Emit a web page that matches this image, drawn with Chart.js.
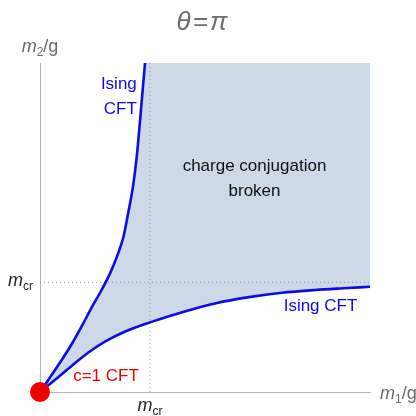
<!DOCTYPE html>
<html>
<head>
<meta charset="utf-8">
<script src="https://cdn.jsdelivr.net/npm/chart.js@4/dist/chart.umd.min.js"></script>
<style>
  html, body { margin: 0; padding: 0; background: #fff; }
  #wrap { width: 416px; height: 416px; }
</style>
</head>
<body>
<div id="wrap"><canvas id="phase"></canvas></div>
<script>
// everything in units of m_cr (m_cr = 1)
const axisMax = 3;
const critical = 1;

// lower Ising line (m1 large)
const lowerX = [0, 0.16, 0.29, 0.44, 0.59, 0.77, 1.0, 1.3, 1.6, 1.9, 2.2, 2.5, 2.8, 3.0];
const lowerY = [0, 0.13, 0.24, 0.36, 0.46, 0.55, 0.635, 0.73, 0.81, 0.865, 0.905, 0.93, 0.948, 0.96];

// upper Ising line (m2 large)
const upperX = [0, 0.17, 0.29, 0.39, 0.475, 0.56, 0.645, 0.705, 0.76, 0.805, 0.845, 0.88, 0.91, 0.933, 0.955];
const upperY = [0, 0.25, 0.44, 0.62, 0.78, 0.93, 1.1, 1.25, 1.42, 1.65, 1.87, 2.15, 2.48, 2.75, 3.0];

const blue = 'rgb(12,12,228)';
const red = 'rgb(236,0,0)';
const shade = 'rgb(206,217,231)';
const dotGray = 'rgb(150,150,150)';

const toPts = (xs, ys) => xs.map((x, i) => ({x: x, y: ys[i]}));

const upperPts = toPts(upperX, upperY);
const lowerPts = toPts(lowerX, lowerY);
// broken region: up the upper line, across the top, down the right, back along the lower line
const regionPts = upperPts.concat([{x: axisMax, y: axisMax}], lowerPts.slice().reverse());

function richText(ctx, parts, x, y, align, color) {
    const fontFor = p => {
        if (p.sub) return '12px "Liberation Sans", Arial, sans-serif';
        return (p.italic ? 'italic ' : '') + (p.size || 18) + 'px "Liberation Sans", Arial, sans-serif';
    };
    let total = 0;
    parts.forEach(p => { ctx.font = fontFor(p); total += ctx.measureText(p.t).width; });
    let cx = align === 'right' ? x - total : align === 'center' ? x - total / 2 : x;
    ctx.fillStyle = color;
    ctx.textBaseline = 'alphabetic';
    ctx.textAlign = 'left';
    parts.forEach(p => {
        ctx.font = fontFor(p);
        ctx.fillText(p.t, cx, p.sub ? y + 4 : y);
        cx += ctx.measureText(p.t).width;
    });
}

const labelsPlugin = {
    id: 'labels',
    afterDraw(chart) {
        const ctx = chart.ctx;
        const xs = chart.scales.x, ys = chart.scales.y;
        const area = chart.chartArea;
        const font = '17px "Liberation Sans", Arial, sans-serif';
        ctx.save();

        // title
        richText(ctx, [{t: 'θ\u200A=\u200Aπ', italic: true, size: 26}], 202, 30, 'center', 'rgb(110,110,110)');

        // axis names
        richText(ctx, [{t: 'm', italic: true}, {t: '2', sub: true}, {t: '/g'}], area.left, 52, 'center', 'rgb(105,105,105)');
        richText(ctx, [{t: 'm', italic: true}, {t: '1', sub: true}, {t: '/g'}], area.right + 10, 399, 'left', 'rgb(105,105,105)');

        // m_cr ticks
        richText(ctx, [{t: 'm', italic: true}, {t: 'cr', sub: true}], area.left - 7, ys.getPixelForValue(critical) + 4, 'right', '#222');
        richText(ctx, [{t: 'm', italic: true}, {t: 'cr', sub: true}], xs.getPixelForValue(critical), area.bottom + 19, 'center', '#222');

        ctx.font = font;
        ctx.textAlign = 'center';
        ctx.textBaseline = 'middle';

        ctx.fillStyle = '#111';
        ctx.fillText('charge conjugation', xs.getPixelForValue(1.95), ys.getPixelForValue(2.06));
        ctx.fillText('broken', xs.getPixelForValue(1.95), ys.getPixelForValue(1.83));

        ctx.fillStyle = blue;
        ctx.textAlign = 'right';
        ctx.fillText('Ising', xs.getPixelForValue(0.88), ys.getPixelForValue(2.81));
        ctx.fillText('CFT', xs.getPixelForValue(0.88), ys.getPixelForValue(2.58));
        ctx.textAlign = 'center';
        ctx.fillText('Ising CFT', xs.getPixelForValue(2.55), ys.getPixelForValue(0.78));

        ctx.fillStyle = red;
        ctx.fillText('c=1 CFT', xs.getPixelForValue(0.6), ys.getPixelForValue(0.14));
        ctx.restore();
    }
};

new Chart(document.getElementById('phase'), {
    type: 'scatter',
    data: {
        datasets: [
            {
                data: [{x: 0, y: 0}],
                pointRadius: 10,
                pointBackgroundColor: red,
                pointBorderWidth: 0,
                clip: false
            },
            {
                data: upperPts, showLine: true, pointRadius: 0,
                borderColor: blue, borderWidth: 2.6, cubicInterpolationMode: 'monotone'
            },
            {
                data: lowerPts, showLine: true, pointRadius: 0,
                borderColor: blue, borderWidth: 2.6, cubicInterpolationMode: 'monotone'
            },
            {
                data: [{x: critical, y: 0}, {x: critical, y: axisMax}],
                showLine: true, pointRadius: 0,
                borderColor: dotGray, borderWidth: 1, borderDash: [1, 3]
            },
            {
                data: [{x: 0, y: critical}, {x: axisMax, y: critical}],
                showLine: true, pointRadius: 0,
                borderColor: dotGray, borderWidth: 1, borderDash: [1, 3]
            },
            {
                data: regionPts, showLine: true, pointRadius: 0,
                borderWidth: 0, borderColor: shade, backgroundColor: shade,
                fill: 'shape', tension: 0
            }
        ]
    },
    options: {
        responsive: true,
        maintainAspectRatio: false,
        animation: false,
        events: [],
        layout: {padding: {left: 32, right: 46, top: 63, bottom: 16}},
        plugins: {legend: {display: false}, tooltip: {enabled: false}, title: {display: false}},
        scales: {
            x: {
                type: 'linear', min: 0, max: axisMax,
                grid: {display: false},
                ticks: {display: false},
                border: {display: true, color: 'rgb(180,180,180)', width: 1}
            },
            y: {
                type: 'linear', min: 0, max: axisMax,
                grid: {display: false},
                ticks: {display: false},
                border: {display: true, color: 'rgb(180,180,180)', width: 1}
            }
        }
    },
    plugins: [labelsPlugin]
});
</script>
</body>
</html>
